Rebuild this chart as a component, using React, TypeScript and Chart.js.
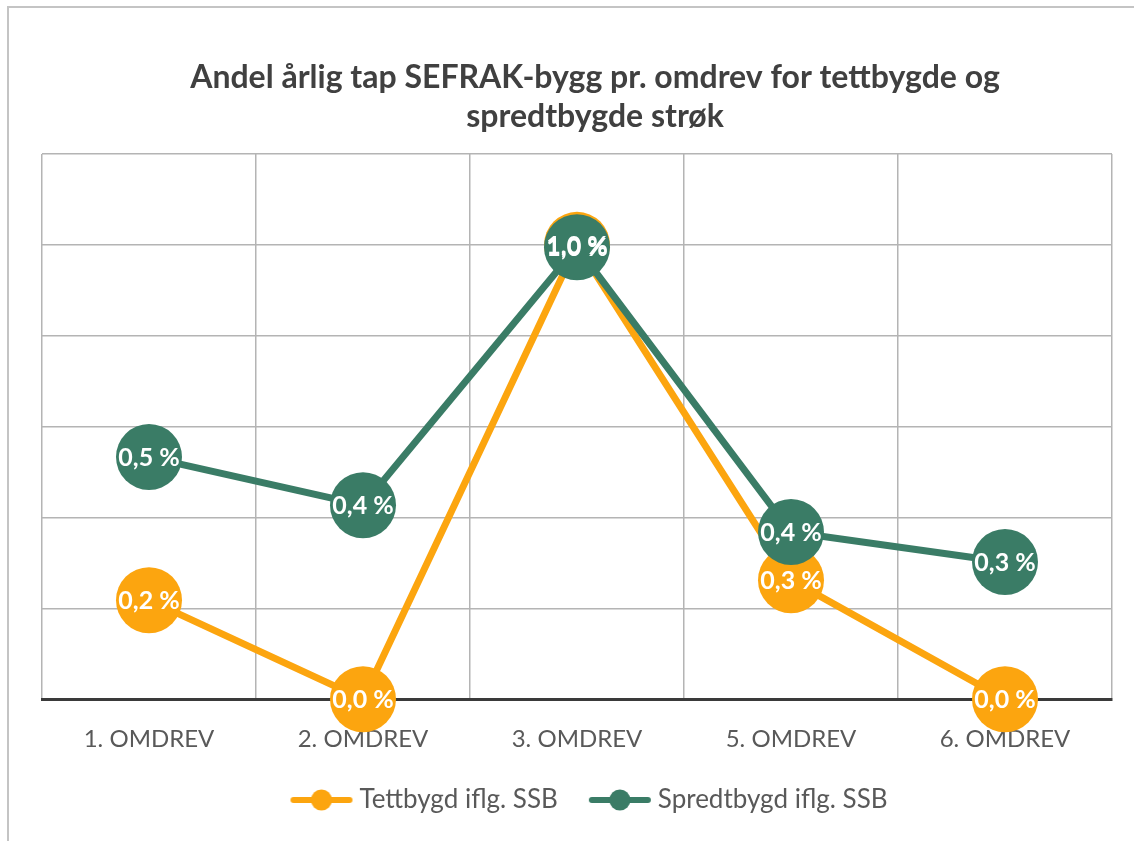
import React, { useEffect, useRef } from "react";
import { Chart, registerables } from "chart.js";

Chart.register(...registerables);

const categories = ["1. OMDREV", "2. OMDREV", "3. OMDREV", "5. OMDREV", "6. OMDREV"];
const tettbygd = [0.218, 0.0, 1.0, 0.262, 0.0];
const spredtbygd = [0.533, 0.427, 0.995, 0.368, 0.302];
const seriesNames = ["Tettbygd iflg. SSB", "Spredtbygd iflg. SSB"];
const titleLines = ["Andel årlig tap SEFRAK-bygg pr. omdrev for tettbygde og", "spredtbygde strøk"];

const ORANGE = "#FCA50F";
const GREEN = "#3A7C66";
const FONT = "Lato, 'Open Sans', sans-serif";

function makeMarker(color: string): HTMLCanvasElement {
  const c = document.createElement("canvas");
  c.width = 100;
  c.height = 24;
  const ctx = c.getContext("2d")!;
  ctx.strokeStyle = color;
  ctx.lineWidth = 6;
  ctx.lineCap = "round";
  ctx.beginPath();
  ctx.moveTo(37, 12);
  ctx.lineTo(93, 12);
  ctx.stroke();
  ctx.fillStyle = color;
  ctx.beginPath();
  ctx.arc(65, 12, 10.5, 0, Math.PI * 2);
  ctx.fill();
  return c;
}

const fmt = (v: number) => v.toFixed(1).replace(".", ",") + " %";

export default function App() {
  const ref = useRef<HTMLCanvasElement>(null);
  useEffect(() => {
    document.body.style.margin = "0";
    const markers = [makeMarker(ORANGE), makeMarker(GREEN)];

    const framePlugin = {
      id: "frame",
      beforeDraw(chart: any) {
        const ctx = chart.ctx;
        ctx.save();
        ctx.fillStyle = "#ffffff";
        ctx.fillRect(0, 0, chart.width, chart.height);
        ctx.strokeStyle = "#C4C4C4";
        ctx.lineWidth = 2;
        ctx.strokeRect(8, 7, chart.width + 20, chart.height + 20);
        ctx.restore();
      },
      afterDraw(chart: any) {
        const ctx = chart.ctx;
        ctx.save();
        ctx.fillStyle = "#404040";
        ctx.font = `bold 32px ${FONT}`;
        ctx.textAlign = "center";
        ctx.textBaseline = "alphabetic";
        ctx.fillText(titleLines[0], 595, 88);
        ctx.fillText(titleLines[1], 595, 127);
        ctx.restore();
      },
    };

    const labelPlugin = {
      id: "pointLabels",
      afterDatasetsDraw(chart: any) {
        const ctx = chart.ctx;
        ctx.save();
        ctx.fillStyle = "#ffffff";
        ctx.font = `bold 25px ${FONT}`;
        ctx.textAlign = "center";
        ctx.textBaseline = "middle";
        chart.data.datasets.forEach((ds: any, di: number) => {
          const meta = chart.getDatasetMeta(di);
          meta.data.forEach((el: any, i: number) => {
            ctx.fillText(fmt(ds.data[i]), el.x, el.y + 1);
          });
        });
        ctx.restore();
      },
    };

    const chart = new Chart(ref.current!, {
      type: "line",
      data: {
        labels: categories,
        datasets: [
          {
            label: seriesNames[0],
            data: tettbygd,
            borderColor: ORANGE,
            backgroundColor: ORANGE,
            borderWidth: 7,
            pointRadius: 33,
            pointHoverRadius: 33,
            pointBorderWidth: 0,
            pointBackgroundColor: ORANGE,
            clip: false as any,
            order: 1,
          },
          {
            label: seriesNames[1],
            data: spredtbygd,
            borderColor: GREEN,
            backgroundColor: GREEN,
            borderWidth: 7,
            pointRadius: 33,
            pointHoverRadius: 33,
            pointBorderWidth: 0,
            pointBackgroundColor: GREEN,
            clip: false as any,
            order: 0,
          },
        ],
      },
      options: {
        responsive: false,
        animation: false,
        layout: { autoPadding: false, padding: { left: 42, right: 22, top: 154, bottom: 18 } },
        scales: {
          x: {
            offset: true,
            grid: { offset: true, color: "#B4B4B4", lineWidth: 1.5, drawTicks: false },
            border: { display: true, color: "#3A3A3A", width: 3 },
            ticks: { color: "#595959", font: { family: FONT, size: 24 }, padding: 26 },
          },
          y: {
            min: 0,
            max: 1.2,
            ticks: { display: false, stepSize: 0.2 },
            grid: { color: "#B4B4B4", lineWidth: 1.5, drawTicks: false },
            border: { display: false },
          },
        },
        plugins: {
          title: { display: false },
          tooltip: { enabled: false },
          legend: {
            position: "bottom",
            labels: {
              usePointStyle: true,
              pointStyleWidth: 80,
              padding: 7,
              color: "#595959",
              font: { family: FONT, size: 26 },
              sort: (a: any, b: any) => a.datasetIndex - b.datasetIndex,
              generateLabels: (c: any) => {
                const items = (Chart.defaults.plugins.legend.labels as any).generateLabels(c);
                return items.map((it: any) => ({ ...it, pointStyle: markers[it.datasetIndex] }));
              },
            },
          },
        },
      },
      plugins: [framePlugin, labelPlugin],
    });
    return () => chart.destroy();
  }, []);

  return (
    <div style={{ position: "absolute", left: 0, top: 0, width: 1134, height: 841 }}>
      <canvas ref={ref} width={1134} height={841} style={{ display: "block" }} />
    </div>
  );
}
